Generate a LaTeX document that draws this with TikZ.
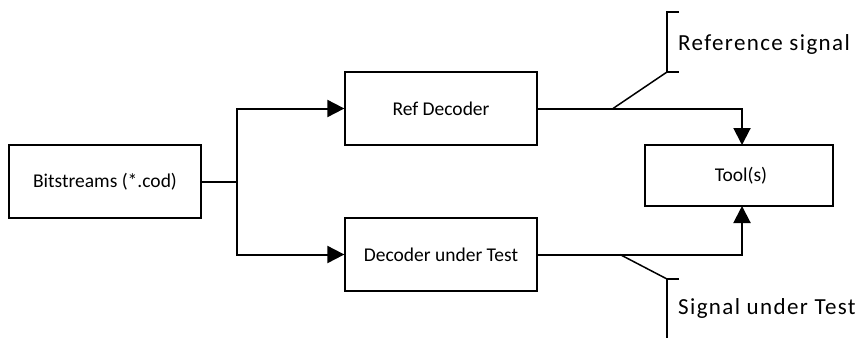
\documentclass[tikz,border=0pt]{standalone}
\usepackage{fontspec}
\setmainfont{Carlito}
\newfontfamily\widefont[LetterSpace=6]{Carlito}
\usetikzlibrary{arrows.meta}
\begin{document}
\begin{tikzpicture}[x=1pt,y=-1pt,
  blk/.style={draw,line width=1.3pt,minimum width=192pt,minimum height=73pt,inner sep=0pt,font=\fontsize{19.5}{22}\selectfont},
  conn/.style={line width=2pt},
  arr/.style={conn,-{Triangle[length=17pt,width=17pt]}},
  call/.style={line width=1.5pt},
  lbl/.style={anchor=west,inner sep=0pt,font=\widefont\fontsize{23}{26}\selectfont}]
\useasboundingbox (0,0) rectangle (866,338);
\node[blk] (bits) at (105,181.5) {Bitstreams (*.cod)};
\node[blk] (ref) at (441,108.5) {Ref Decoder};
\node[blk] (dut) at (441,254.5) {Decoder under Test};
\node[blk,minimum width=188pt,minimum height=61pt] (tool) at (739,175.5) {\hspace*{4pt}Tool(s)};
\coordinate (split) at (237,181.5);
\draw[conn] (bits.east) -- (split);
\draw[arr] (split) |- (ref.west);
\draw[arr] (split) |- (dut.west);
\coordinate (tt) at (742,145);
\coordinate (tb) at (742,206);
\draw[arr] (ref.east) -| (tt);
\draw[arr] (dut.east) -| (tb);
% callouts
\coordinate (c1) at (613,108.5);
\coordinate (b1a) at (667,12);
\coordinate (b1b) at (667,72);
\draw[call] (c1) -- (b1b);
\draw[call] (679,12) -- (b1a) -- (b1b) -- (679,72);
\node[lbl] (l1) at (678,44) {Reference signal};
\coordinate (c2) at (620,254.5);
\coordinate (b2a) at (667,279);
\draw[call] (c2) -- (b2a);
\draw[call] (679,279) -- (b2a) -- (667,338);
\node[lbl] (l2) at (678,308) {Signal under Test};
\end{tikzpicture}
\end{document}
